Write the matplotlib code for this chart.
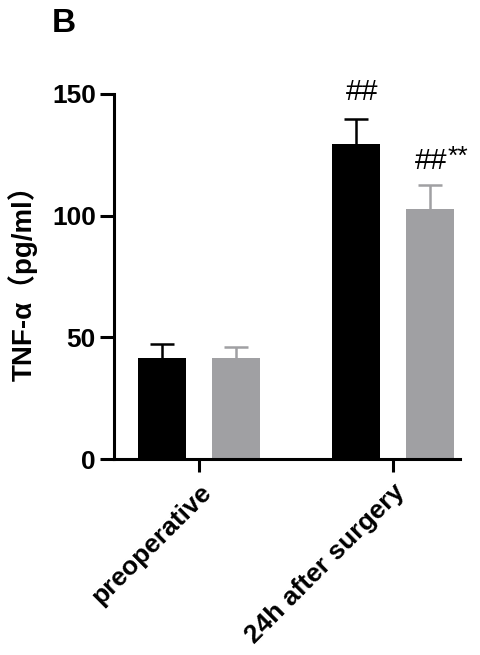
import matplotlib.pyplot as plt
import numpy as np

GROUPS = ["preoperative", "24h after surgery"]
CONTROL_MEAN = [41.5, 129.5]
CONTROL_SD = [5.8, 10.2]
TREAT_MEAN = [41.5, 102.7]
TREAT_SD = [4.5, 9.9]
CONTROL_MARK = ["", "##"]
TREAT_MARK = ["", "##"]
TREAT_STAR = ["", "**"]

BLACK = "#000000"
GRAY = "#a0a0a3"
FONT = ["Liberation Sans", "Noto Sans CJK SC", "DejaVu Sans"]

plt.rcParams["font.family"] = FONT

fig = plt.figure(figsize=(4.81, 6.55), dpi=100)
ax = fig.add_axes([0.237, 0.2992, 0.719, 0.5573])

x = np.arange(len(GROUPS))
width = 0.25
off = 0.19

for xs, mean, sd, col in [(x - off, CONTROL_MEAN, CONTROL_SD, BLACK),
                          (x + off, TREAT_MEAN, TREAT_SD, GRAY)]:
    ax.bar(xs, mean, width, color=col, zorder=2)
    _, caps, _ = ax.errorbar(xs, mean, yerr=[np.zeros(len(sd)), sd],
                             fmt="none", ecolor=col, elinewidth=1.8,
                             capsize=8.5, capthick=1.8, zorder=1)
    caps[0].set_visible(False)  # no cap at the bar top

for i in range(len(GROUPS)):
    if CONTROL_MARK[i]:
        ax.text(x[i] - off + 0.03, CONTROL_MEAN[i] + CONTROL_SD[i] + 8,
                CONTROL_MARK[i], ha="center", va="baseline", fontsize=21)
    if TREAT_MARK[i]:
        ax.text(x[i] + off + 0.09, TREAT_MEAN[i] + TREAT_SD[i] + 6.5,
                TREAT_MARK[i], ha="right", va="baseline", fontsize=21)
        ax.text(x[i] + off + 0.09, TREAT_MEAN[i] + TREAT_SD[i] + 8.5,
                TREAT_STAR[i], ha="left", va="baseline", fontsize=19)

ax.set_xlim(-0.438, 1.345)
ax.set_ylim(0, 150)
ax.set_yticks([0, 50, 100, 150])
ax.set_xticks(x)
ax.set_xticklabels(GROUPS, rotation=45, ha="right", rotation_mode="anchor",
                   fontsize=19, fontweight="bold")
for lab in ax.get_yticklabels():
    lab.set_fontsize(19)
    lab.set_fontweight("bold")

ax.spines["top"].set_visible(False)
ax.spines["right"].set_visible(False)
for s in ["left", "bottom"]:
    ax.spines[s].set_linewidth(2.2)
ax.tick_params(axis="y", length=10, width=2.2, pad=3)
ax.tick_params(axis="x", length=9, width=2.2, pad=6)

ax.set_ylabel("TNF-α（pg/ml）", fontsize=20, fontweight="bold", labelpad=10)

fig.text(52 / 481, 1 - 32 / 655, "B", fontsize=24, fontweight="bold",
         ha="left", va="baseline")

fig.savefig("out.png", dpi=100)
